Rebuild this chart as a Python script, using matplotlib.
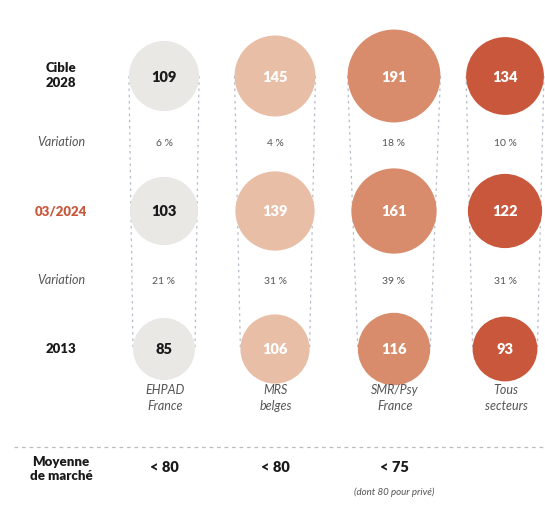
import numpy as np
import matplotlib
matplotlib.use("Agg")
import matplotlib.pyplot as plt
from matplotlib.patches import Circle

plt.rcParams['font.family'] = ['Lato', 'DejaVu Sans']

# Data
sectors = ["EHPAD\nFrance", "MRS\nbelges", "SMR/Psy\nFrance", "Tous\nsecteurs"]
cible_2028 = [109, 145, 191, 134]
mars_2024 = [103, 139, 161, 122]
annee_2013 = [85, 106, 116, 93]
variation_2024_2028 = ["6 %", "4 %", "18 %", "10 %"]
variation_2013_2024 = ["21 %", "31 %", "39 %", "31 %"]
moyenne_marche = ["< 80", "< 80", "< 75", ""]
note_marche = ["", "", "(dont 80 pour privé)", ""]
row_labels = ["Cible\n2028", "Variation", "03/2024", "Variation", "2013"]

fill_colors = ["#e9e8e5", "#e8bea6", "#d88c6c", "#c9573b"]
text_colors = ["#1a1a1a", "#ffffff", "#ffffff", "#ffffff"]

W, H = 545, 509
fig = plt.figure(figsize=(W / 100, H / 100), dpi=100)
ax = fig.add_axes([0, 0, 1, 1])
ax.set_xlim(0, W)
ax.set_ylim(H, 0)
ax.axis("off")

col_x = [164, 275, 394, 505]
row_y = {"2028": 76, "var1": 144, "2024": 211, "var2": 282, "2013": 349}
scale = 3.36  # radius per sqrt(value)

def radius(v):
    return scale * np.sqrt(v)

line_color = "#b4bccb"
for i, x in enumerate(col_x):
    r_top = radius(cible_2028[i])
    r_bot = radius(annee_2013[i])
    # dotted guides joining the three circles of a column
    for side in (-1, 1):
        ax.plot([x + side * r_top, x + side * r_bot],
                [row_y["2028"], row_y["2013"]],
                color=line_color, lw=0.9, ls=(0, (2, 3)), zorder=1)
    for key, vals in (("2028", cible_2028), ("2024", mars_2024), ("2013", annee_2013)):
        v = vals[i]
        ax.add_patch(Circle((x, row_y[key]), radius(v), facecolor=fill_colors[i],
                            edgecolor="none", zorder=2))
        ax.text(x, row_y[key] + 1, str(v), ha="center", va="center",
                fontsize=10.5, fontweight="heavy", color=text_colors[i], zorder=3)
    ax.text(x, row_y["var1"], variation_2024_2028[i], ha="center", va="center",
            fontsize=7.5, color="#555555")
    ax.text(x, row_y["var2"], variation_2013_2024[i], ha="center", va="center",
            fontsize=7.5, color="#555555")
    ax.text(x + 1, 398, sectors[i], ha="center", va="center", fontsize=9,
            style="italic", color="#555555", linespacing=1.35)
    if moyenne_marche[i]:
        ax.text(x, 468, moyenne_marche[i], ha="center", va="center",
                fontsize=10.5, fontweight="heavy", color="#1a1a1a")
    if note_marche[i]:
        ax.text(x, 492, note_marche[i], ha="center", va="center",
                fontsize=7, style="italic", color="#555555")

# Row headers
lab_x = 61
ax.text(lab_x, 75, row_labels[0], ha="center", va="center", fontsize=9.5,
        fontweight="heavy", color="#1a1a1a", linespacing=1.3)
ax.text(lab_x, row_y["var1"] - 2, row_labels[1], ha="center", va="center",
        fontsize=9, style="italic", color="#555555")
ax.text(lab_x, row_y["2024"], row_labels[2], ha="center", va="center",
        fontsize=9.5, fontweight="heavy", color="#c8583c")
ax.text(lab_x, row_y["var2"] - 2, row_labels[3], ha="center", va="center",
        fontsize=9, style="italic", color="#555555")
ax.text(lab_x, row_y["2013"], row_labels[4], ha="center", va="center",
        fontsize=9.5, fontweight="heavy", color="#1a1a1a")

# Separator and market average row
ax.plot([14, W], [447, 447], color="#bdbdbd", lw=0.9, ls=(0, (3, 3)))
ax.text(lab_x, 469, "Moyenne\nde marché", ha="center", va="center", fontsize=9.5,
        fontweight="heavy", color="#1a1a1a", linespacing=1.25)

fig.savefig("out.png", dpi=100)
